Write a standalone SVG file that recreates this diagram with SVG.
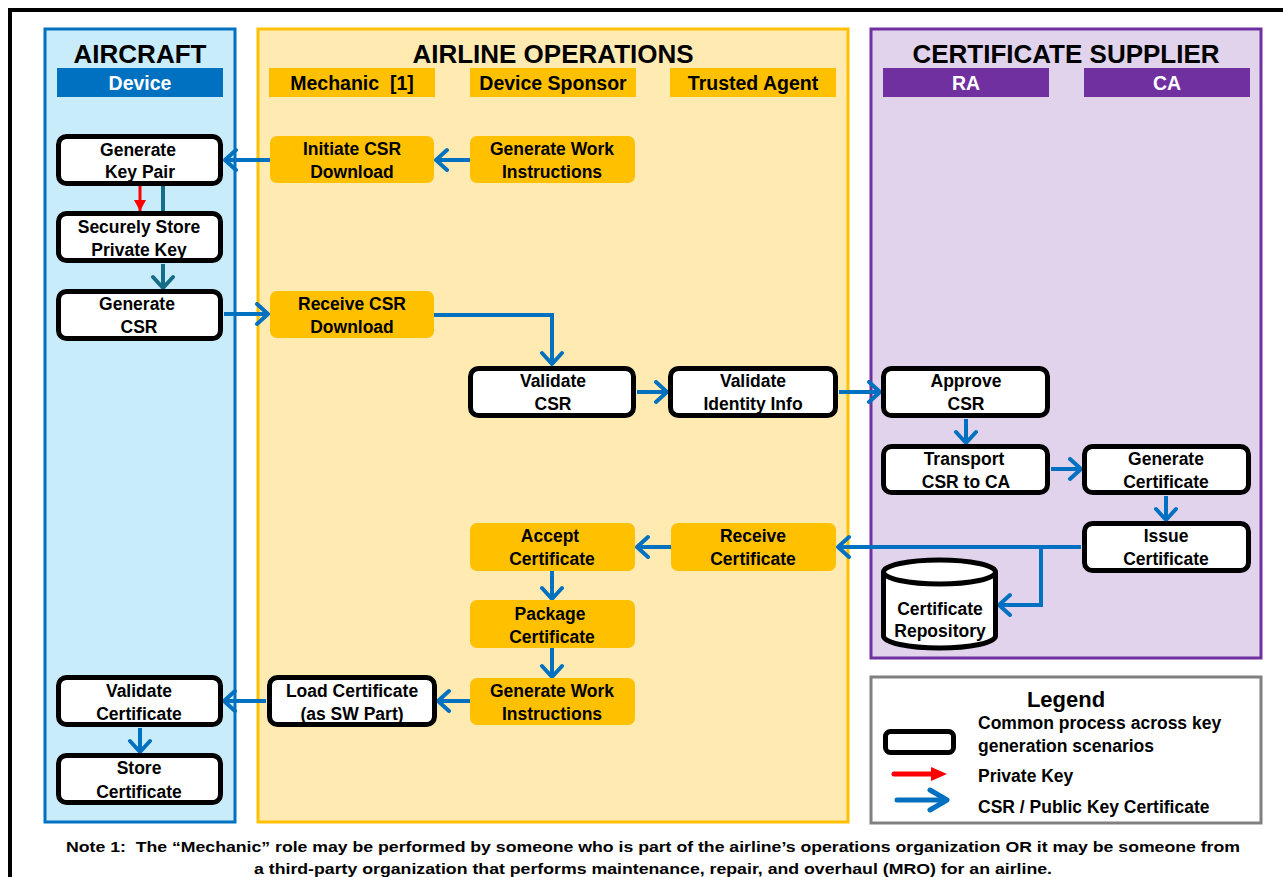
<svg xmlns="http://www.w3.org/2000/svg" width="1283" height="877" viewBox="0 0 1283 877">
<defs>
<style>
text{font-family:"Liberation Sans",Arial,sans-serif;font-weight:bold;fill:#000}
.t{font-size:17.5px;text-anchor:middle}
.title{font-size:26px;text-anchor:middle}
.hdr{font-size:19.5px;text-anchor:middle}
.box{fill:#fff;stroke:#000;stroke-width:5}
.obox{fill:#FFC000;stroke:none}
.c{fill:none;stroke:#0070C0;stroke-width:4}
.leg{font-size:17.5px}
</style>
<marker id="ah" markerUnits="userSpaceOnUse" markerWidth="20" markerHeight="26" refX="14" refY="12" orient="auto">
<path d="M3,2 L14,12 L3,22" fill="none" stroke="#0070C0" stroke-width="4" stroke-linecap="round" stroke-linejoin="round"/>
</marker>
<marker id="ahT" markerUnits="userSpaceOnUse" markerWidth="20" markerHeight="26" refX="14" refY="12" orient="auto">
<path d="M3,2 L14,12 L3,22" fill="none" stroke="#156E86" stroke-width="4" stroke-linecap="round" stroke-linejoin="round"/>
</marker>
<marker id="ahR" markerUnits="userSpaceOnUse" markerWidth="14" markerHeight="14" refX="11" refY="6" orient="auto">
<path d="M0,0 L11,6 L0,12 Z" fill="#FF0000"/>
</marker>
</defs>
<rect x="0" y="0" width="1283" height="877" fill="#fff"/>
<rect x="10" y="10" width="1300" height="900" fill="none" stroke="#000" stroke-width="4"/>

<g id="lane-aircraft">
<rect x="45" y="29" width="190" height="793" fill="#C8ECFA" stroke="#0070C0" stroke-width="3"/>
<text class="title" x="140" y="63">AIRCRAFT</text>
<rect x="57" y="68" width="166" height="29" fill="#0070C0"/>
<text class="hdr" x="140" y="90" style="fill:#fff">Device</text>
</g>
<g id="lane-airline">
<rect x="258" y="29" width="590" height="793" fill="#FFEBB2" stroke="#FFC000" stroke-width="3"/>
<text class="title" x="553" y="63">AIRLINE OPERATIONS</text>
<rect x="269" y="68" width="166" height="29" fill="#FFC000"/>
<text class="hdr" x="352" y="90" xml:space="preserve">Mechanic  [1]</text>
<rect x="470" y="68" width="166" height="29" fill="#FFC000"/>
<text class="hdr" x="553" y="90">Device Sponsor</text>
<rect x="670" y="68" width="166" height="29" fill="#FFC000"/>
<text class="hdr" x="753" y="90">Trusted Agent</text>
</g>
<g id="lane-supplier">
<rect x="871" y="29" width="390" height="629" fill="#E1D3EC" stroke="#7030A0" stroke-width="3"/>
<text class="title" x="1066" y="63">CERTIFICATE SUPPLIER</text>
<rect x="883" y="68" width="166" height="29" fill="#7030A0"/>
<text class="hdr" x="966" y="90" style="fill:#fff">RA</text>
<rect x="1084" y="68" width="166" height="29" fill="#7030A0"/>
<text class="hdr" x="1167" y="90" style="fill:#fff">CA</text>
</g>

<g id="connectors">
<line x1="140" y1="186" x2="140" y2="211" stroke="#FF0000" stroke-width="3" marker-end="url(#ahR)"/>
<line x1="163" y1="186" x2="163" y2="212" stroke="#156E86" stroke-width="4"/>
<line x1="163" y1="264" x2="163" y2="288" stroke="#156E86" stroke-width="4" marker-end="url(#ahT)"/>
<line class="c" x1="270" y1="160" x2="225" y2="160" marker-end="url(#ah)"/>
<line class="c" x1="470" y1="160" x2="436" y2="160" marker-end="url(#ah)"/>
<line class="c" x1="224" y1="314" x2="268" y2="314" marker-end="url(#ah)"/>
<polyline class="c" points="434,315 552,315 552,364" marker-end="url(#ah)"/>
<line class="c" x1="637" y1="392" x2="667" y2="392" marker-end="url(#ah)"/>
<line class="c" x1="839" y1="392" x2="880" y2="392" marker-end="url(#ah)"/>
<line class="c" x1="966" y1="419" x2="966" y2="443" marker-end="url(#ah)"/>
<line class="c" x1="1051" y1="469" x2="1081" y2="469" marker-end="url(#ah)"/>
<line class="c" x1="1166" y1="496" x2="1166" y2="520" marker-end="url(#ah)"/>
<line class="c" x1="1081" y1="547" x2="838" y2="547" marker-end="url(#ah)"/>
<polyline class="c" points="1041,547 1041,605 999,605" marker-end="url(#ah)"/>
<line class="c" x1="671" y1="547" x2="637" y2="547" marker-end="url(#ah)"/>
<line class="c" x1="552" y1="571" x2="552" y2="599" marker-end="url(#ah)"/>
<line class="c" x1="552" y1="648" x2="552" y2="677" marker-end="url(#ah)"/>
<line class="c" x1="470" y1="701" x2="438" y2="701" marker-end="url(#ah)"/>
<line class="c" x1="266" y1="701" x2="224" y2="701" marker-end="url(#ah)"/>
<line class="c" x1="140" y1="728" x2="140" y2="752" marker-end="url(#ah)"/>
</g>

<g id="n-genkey"><rect class="box" x="58.5" y="136.5" width="162" height="47" rx="8"/><text class="t" x="138" y="156">Generate</text><text class="t" x="140" y="178">Key Pair</text></g>
<g id="n-store-priv"><rect class="box" x="58.5" y="213.5" width="162" height="47" rx="8"/><text class="t" x="139" y="233">Securely Store</text><text class="t" x="139" y="256">Private Key</text></g>
<g id="n-gencsr"><rect class="box" x="58.5" y="291.5" width="162" height="47" rx="8"/><text class="t" x="137" y="310">Generate</text><text class="t" x="139" y="333">CSR</text></g>
<g id="n-initiate"><rect class="obox" x="270" y="136" width="164" height="47" rx="7"/><text class="t" x="352" y="155">Initiate CSR</text><text class="t" x="352" y="178">Download</text></g>
<g id="n-gwi1"><rect class="obox" x="470" y="136" width="165" height="47" rx="7"/><text class="t" x="552" y="155">Generate Work</text><text class="t" x="552" y="178">Instructions</text></g>
<g id="n-recvcsr"><rect class="obox" x="270" y="291" width="164" height="47" rx="7"/><text class="t" x="352" y="310">Receive CSR</text><text class="t" x="352" y="333">Download</text></g>
<g id="n-valcsr"><rect class="box" x="470.5" y="368.5" width="163" height="47" rx="8"/><text class="t" x="553" y="387">Validate</text><text class="t" x="553" y="410">CSR</text></g>
<g id="n-valid"><rect class="box" x="670.5" y="368.5" width="165" height="47" rx="8"/><text class="t" x="753" y="387">Validate</text><text class="t" x="753" y="410">Identity Info</text></g>
<g id="n-approve"><rect class="box" x="883.5" y="368.5" width="164" height="47" rx="8"/><text class="t" x="966" y="387">Approve</text><text class="t" x="966" y="410">CSR</text></g>
<g id="n-transport"><rect class="box" x="883.5" y="446.5" width="164" height="46" rx="8"/><text class="t" x="964" y="465">Transport</text><text class="t" x="966" y="488">CSR to CA</text></g>
<g id="n-gencert"><rect class="box" x="1084.5" y="446.5" width="164" height="46" rx="8"/><text class="t" x="1166" y="465">Generate</text><text class="t" x="1166" y="488">Certificate</text></g>
<g id="n-issue"><rect class="box" x="1084.5" y="523.5" width="164" height="47" rx="8"/><text class="t" x="1166" y="542">Issue</text><text class="t" x="1166" y="565">Certificate</text></g>
<g id="n-repo">
<path d="M883.5,572 L883.5,636 A56,12 0 0 0 995.5,636 L995.5,572" fill="#fff" stroke="#000" stroke-width="5"/>
<ellipse cx="939.5" cy="572" rx="56" ry="12" fill="#fff" stroke="#000" stroke-width="5"/>
<text class="t" x="940" y="615">Certificate</text><text class="t" x="940" y="637">Repository</text>
</g>
<g id="n-recvcert"><rect class="obox" x="671" y="523" width="165" height="48" rx="7"/><text class="t" x="753" y="542">Receive</text><text class="t" x="753" y="565">Certificate</text></g>
<g id="n-accept"><rect class="obox" x="470" y="523" width="165" height="48" rx="7"/><text class="t" x="550" y="542">Accept</text><text class="t" x="552" y="565">Certificate</text></g>
<g id="n-package"><rect class="obox" x="470" y="600" width="165" height="48" rx="7"/><text class="t" x="550" y="620">Package</text><text class="t" x="552" y="643">Certificate</text></g>
<g id="n-gwi2"><rect class="obox" x="470" y="678" width="165" height="47" rx="7"/><text class="t" x="552" y="697">Generate Work</text><text class="t" x="552" y="720">Instructions</text></g>
<g id="n-load"><rect class="box" x="269.5" y="677.5" width="165" height="47" rx="8"/><text class="t" x="352" y="697">Load Certificate</text><text class="t" x="352" y="720">(as SW Part)</text></g>
<g id="n-valcert"><rect class="box" x="58.5" y="677.5" width="162" height="47" rx="8"/><text class="t" x="139" y="697">Validate</text><text class="t" x="139" y="720">Certificate</text></g>
<g id="n-storecert"><rect class="box" x="58.5" y="755.5" width="162" height="47" rx="8"/><text class="t" x="139" y="774">Store</text><text class="t" x="139" y="798">Certificate</text></g>

<g id="legend">
<rect x="871" y="677" width="390" height="146" fill="#fff" stroke="#808080" stroke-width="3"/>
<text x="1066" y="707" style="font-size:22px;text-anchor:middle">Legend</text>
<rect x="885.5" y="731.5" width="68" height="21" rx="5" fill="#fff" stroke="#000" stroke-width="5"/>
<text class="leg" x="978" y="729">Common process across key</text>
<text class="leg" x="978" y="752">generation scenarios</text>
<line x1="894" y1="774" x2="932" y2="774" stroke="#FF0000" stroke-width="5" stroke-linecap="round"/>
<path d="M931,767 L947,774 L931,781 Z" fill="#FF0000"/>
<text class="leg" x="978" y="782">Private Key</text>
<line x1="897" y1="800" x2="945" y2="800" stroke="#0070C0" stroke-width="5" stroke-linecap="round"/>
<path d="M930,790 L947,800 L930,810" fill="none" stroke="#0070C0" stroke-width="5" stroke-linecap="round" stroke-linejoin="round"/>
<text class="leg" x="978" y="813">CSR / Public Key Certificate</text>
</g>

<g id="note">
<text x="653" y="852" style="font-size:15.5px;text-anchor:middle" textLength="1174" lengthAdjust="spacingAndGlyphs" xml:space="preserve">Note 1:  The “Mechanic” role may be performed by someone who is part of the airline’s operations organization OR it may be someone from</text>
<text x="653" y="874" style="font-size:15.5px;text-anchor:middle" textLength="798" lengthAdjust="spacingAndGlyphs">a third-party organization that performs maintenance, repair, and overhaul (MRO) for an airline.</text>
</g>
</svg>
